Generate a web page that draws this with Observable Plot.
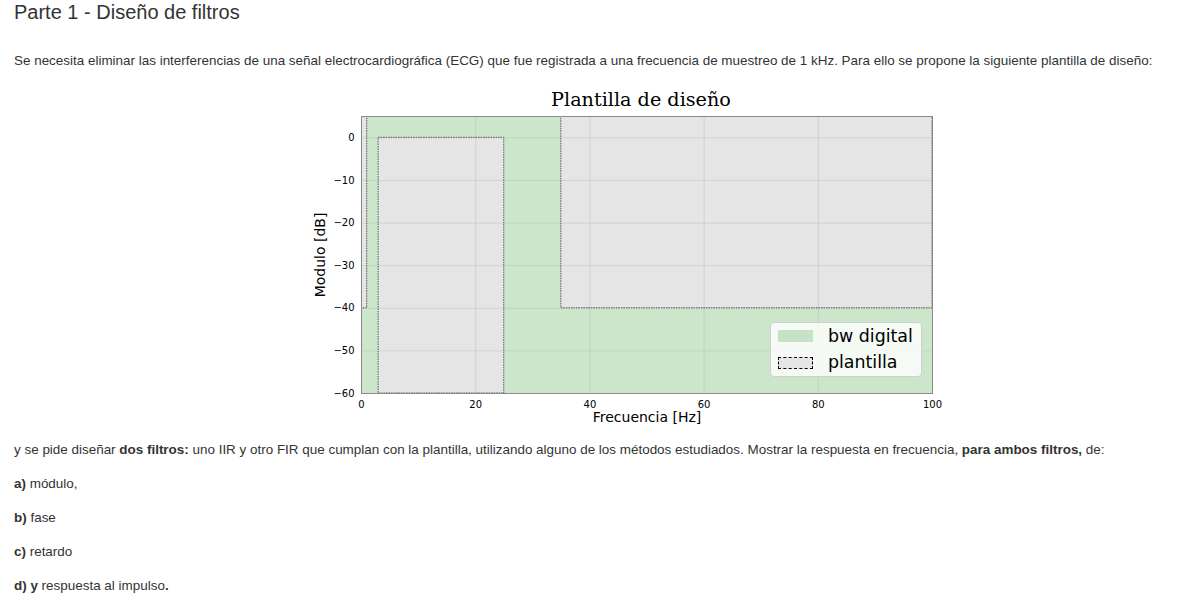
<!DOCTYPE html>
<html>
<head>
<meta charset="utf-8">
<script src="https://cdn.jsdelivr.net/npm/d3@7"></script>
<script src="https://cdn.jsdelivr.net/npm/@observablehq/plot@0.6"></script>
<style>
  html, body { margin: 0; padding: 0; background: #fff; width: 1196px; height: 599px; overflow: hidden; }
  body { position: relative; font-family: "Liberation Sans", Arial, Helvetica, sans-serif; color: #333; }
  .t { position: absolute; left: 14px; white-space: nowrap; font-size: 13.45px; line-height: 16px; }
  h2 { position: absolute; left: 14px; top: 0px; margin: 0; font-weight: normal; font-size: 20px; line-height: 24px; color: #333; }
  #title { position: absolute; left: 300px; width: 682px; top: 88px; text-align: center; font-family: "DejaVu Serif", serif; font-size: 19.2px; line-height: 24px; color: #000; }
  #chart { position: absolute; left: 300px; top: 110px; }
  #legend { position: absolute; left: 770px; top: 322px; width: 152px; height: 55px; box-sizing: border-box;
            background: rgba(255,255,255,0.8); border: 1px solid #d0d0d0; border-radius: 4px;
            font-family: "DejaVu Sans", sans-serif; font-size: 17.4px; color: #000; }
  .sw { position: absolute; left: 7px; width: 35px; height: 12px; box-sizing: border-box; }
  .lb { position: absolute; left: 57px; line-height: 20px; }
</style>
</head>
<body>
<h2>Parte 1 - Diseño de filtros</h2>
<div class="t" style="top:53px">Se necesita eliminar las interferencias de una señal electrocardiográfica (ECG) que fue registrada a una frecuencia de muestreo de 1 kHz. Para ello se propone la siguiente plantilla de diseño:</div>
<div id="title">Plantilla de diseño</div>
<div id="chart"></div>
<div id="legend">
  <div class="sw" style="top:7px; background:#c6e2c6;"></div>
  <div class="lb" style="top:3px">bw digital</div>
  <div class="sw" style="top:34px; background:#e5e5e5; border:1.5px dashed #000;"></div>
  <div class="lb" style="top:29px">plantilla</div>
</div>
<div class="t" style="top:442px">y se pide diseñar <b>dos filtros:</b> uno IIR y otro FIR que cumplan con la plantilla, utilizando alguno de los métodos estudiados. Mostrar la respuesta en frecuencia, <b>para ambos filtros,</b> de:</div>
<div class="t" style="top:476px"><b>a)</b> módulo,</div>
<div class="t" style="top:510px"><b>b)</b> fase</div>
<div class="t" style="top:544px"><b>c)</b> retardo</div>
<div class="t" style="top:578px"><b>d) y</b> respuesta al impulso<b>.</b></div>
<script>
// Plantilla de diseño (regiones prohibidas)
const plantillaRegion = ["detención inferior", "paso", "detención superior"];
const plantillaF1 = [0, 3, 35];      // Hz
const plantillaF2 = [1, 25, 100];    // Hz
const plantillaDB1 = [-40, -60, -40]; // dB
const plantillaDB2 = [5, 0, 5];       // dB
// Ejes
const freqDomain = [0, 100];
const dbDomain = [-60, 5];
const freqTicks = [0, 20, 40, 60, 80, 100];
const dbTicks = [0, -10, -20, -30, -40, -50, -60];

const plantilla = plantillaRegion.map((r, i) => ({
  region: r, f1: plantillaF1[i], f2: plantillaF2[i], db1: plantillaDB1[i], db2: plantillaDB2[i]
}));

const fmt = d => String(d).replace("-", "\u2212");

const chart = Plot.plot({
  width: 650,
  height: 320,
  marginLeft: 61,
  marginRight: 18,
  marginTop: 6,
  marginBottom: 37,
  style: { fontFamily: "'DejaVu Sans', sans-serif", fontSize: "10px", color: "#000", background: "transparent" },
  x: { domain: freqDomain, ticks: freqTicks, tickFormat: fmt, label: "Frecuencia [Hz]" },
  y: { domain: dbDomain, ticks: dbTicks, tickFormat: fmt, label: "Modulo [dB]" },
  marks: [
    Plot.frame({ fill: "#cce6cc" }),
    Plot.rect(plantilla, { x1: "f1", x2: "f2", y1: "db1", y2: "db2", fill: "#e5e5e5", clip: true }),
    Plot.gridX(freqTicks.filter(d => d > 0 && d < 100), { stroke: "#b0b0b0", strokeOpacity: 0.35 }),
    Plot.gridY(dbTicks.filter(d => d > -60), { stroke: "#b0b0b0", strokeOpacity: 0.35 }),
    Plot.rect(plantilla, { x1: "f1", x2: "f2", y1: "db1", y2: "db2", fill: "none", stroke: "#555", strokeWidth: 1, strokeDasharray: "1.5,1", clip: true }),
    Plot.frame({ stroke: "#8a8a8a", strokeWidth: 1 }),
    Plot.axisX({ ticks: freqTicks, tickSize: 0, tickPadding: 7, fontSize: 10, tickFormat: fmt,
                 label: "Frecuencia [Hz]", labelAnchor: "center", labelOffset: 28 }),
    Plot.axisY({ ticks: dbTicks, tickSize: 0, tickPadding: 7, fontSize: 10, tickFormat: fmt,
                 label: "Modulo [dB]", labelAnchor: "center", labelOffset: 46 })
  ]
});
chart.querySelectorAll("[aria-label='x-axis label'] text, [aria-label='y-axis label'] text").forEach(t => {
  t.setAttribute("font-size", "14px");
  t.textContent = t.textContent.replace(/\s*[\u2192\u2191\u2190\u2193]\s*/g, "").trim();
});
document.getElementById("chart").appendChild(chart);
</script>
</body>
</html>
